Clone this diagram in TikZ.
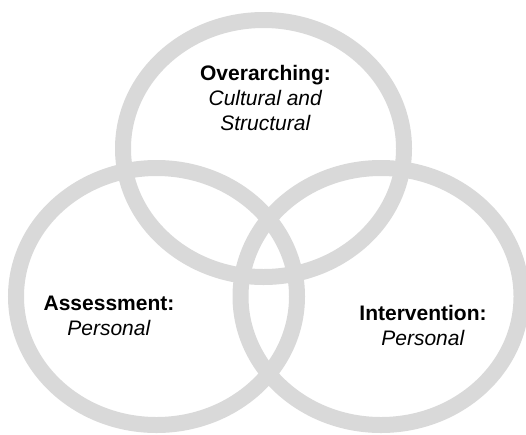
\documentclass[tikz,border=0pt]{standalone}
\usepackage{fontspec}
\setmainfont{Liberation Sans}
\usetikzlibrary{calc}
\tikzstyle{ring}=[draw=black!15,line width=16pt]
\tikzstyle{venntext}=[align=center,inner sep=0pt,font=\fontsize{21}{25}\selectfont]

\begin{document}
\begin{tikzpicture}[x=1pt,y=-1pt]

\useasboundingbox (0,0) rectangle (526,434);

    % the three rings
    \foreach \pos/ \name in {{(263.5,148.5)/top},{(156.5,296.5)/left},{(381,296.5)/right}}
        \draw[ring] \pos ellipse [x radius=140.5pt, y radius=128.5pt];

    % labels
    \node[venntext] (overarching) at (265.5,98) {\textbf{Overarching:}\\ \textit{Cultural and}\\ \textit{Structural}};
    \node[venntext] (assessment) at (109,315.5) {\textbf{Assessment:}\\ \textit{Personal}};
    \node[venntext] (intervention) at (423,325) {\textbf{Intervention:}\\ \textit{Personal}};

 \end{tikzpicture}
\end{document}
